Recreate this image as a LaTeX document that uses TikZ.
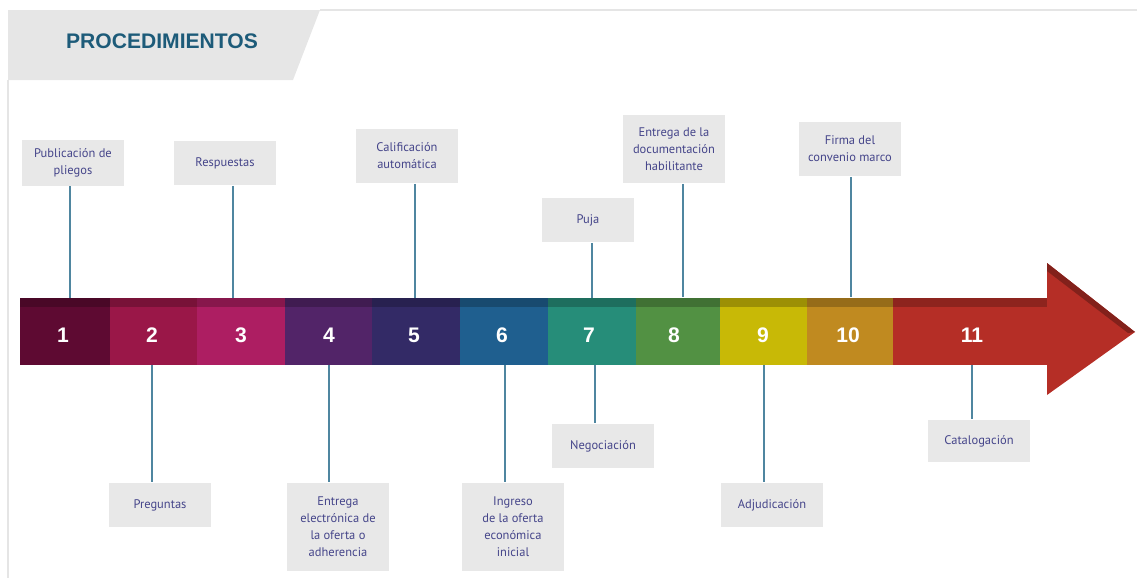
\documentclass[tikz,border=0pt]{standalone}
\usepackage{fontspec}
\usepackage{tikz}
\usetikzlibrary{positioning}
\newfontfamily\boxfont{PT Sans}
\newfontfamily\numfont{Liberation Sans}

\definecolor{headgray}{HTML}{E6E6E6}
\definecolor{boxgray}{HTML}{E8E8E8}
\definecolor{titleblue}{HTML}{1D5B79}
\definecolor{boxtext}{HTML}{45458A}
\definecolor{tickblue}{HTML}{4F86A0}
\definecolor{c1}{HTML}{5E0A32}
\definecolor{c2}{HTML}{9A1748}
\definecolor{c3}{HTML}{AD1E62}
\definecolor{c4}{HTML}{522468}
\definecolor{c5}{HTML}{332A66}
\definecolor{c6}{HTML}{1F5F8F}
\definecolor{c7}{HTML}{268D79}
\definecolor{c8}{HTML}{529143}
\definecolor{c9}{HTML}{C8B906}
\definecolor{c10}{HTML}{C08A20}
\definecolor{c11}{HTML}{B52E26}

\tikzset{
  seg/.style={minimum height=1.16cm,inner sep=0pt,text=white,
              font=\numfont\bfseries\fontsize{12}{14}\selectfont},
  callout/.style={fill=boxgray,minimum width=2.04cm,inner sep=1pt,align=center,
                  text=boxtext,font=\boxfont\fontsize{7.1}{9.6}\selectfont},
  tick/.style={draw=tickblue,line width=0.8pt},
}

\begin{document}
\begin{tikzpicture}[x=0.02cm,y=-0.02cm]
\useasboundingbox (0,0) rectangle (1137,578);

% header
\fill[headgray] (8,10) -- (320,10) -- (293,80) -- (8,80) -- cycle;
\draw[gray!20,line width=0.6pt] (320,10) -- (1137,10);
\draw[gray!20,line width=0.6pt] (8,80) -- (8,578);
\node[text=titleblue,font=\numfont\bfseries\fontsize{12}{14}\selectfont] (title) at (162,41) {PROCEDIMIENTOS};

% bar
\node[seg,fill=c1,minimum width=1.8cm] (s1) at (65,336) {};
\node[seg,fill=c2,minimum width=1.74cm] (s2) at (153.5,336) {};
\node[seg,fill=c3,minimum width=1.76cm] (s3) at (241,336) {};
\node[seg,fill=c4,minimum width=1.74cm] (s4) at (328.5,336) {};
\node[seg,fill=c5,minimum width=1.76cm] (s5) at (416,336) {};
\node[seg,fill=c6,minimum width=1.76cm] (s6) at (504,336) {};
\node[seg,fill=c7,minimum width=1.76cm] (s7) at (592,336) {};
\node[seg,fill=c8,minimum width=1.68cm] (s8) at (678,336) {};
\node[seg,fill=c9,minimum width=1.74cm] (s9) at (763.5,336) {};
\node[seg,fill=c10,minimum width=1.72cm] (s10) at (850,336) {};
\node[seg,fill=c11,minimum width=3.08cm] (s11) at (970,336) {};

\foreach \n/\c in {s1/c1,s2/c2,s3/c3,s4/c4,s5/c5,s6/c6,s7/c7,s8/c8,s9/c9,s10/c10,s11/c11}
  \fill[\c!78!black] (\n.north west) rectangle ([yshift=5pt]\n.north east);

% arrow head
\fill[c11] (1047,263) -- (1135,332) -- (1047,395) -- cycle;
\fill[c11!72!black] (1047,263) -- (1135,332) -- (1128,333) -- (1047,271) -- cycle;

% numbers
\node[seg] (n1) at (63,335) {1};
\node[seg] (n2) at (152,335) {2};
\node[seg] (n3) at (241,335) {3};
\node[seg] (n4) at (329,335) {4};
\node[seg] (n5) at (414,335) {5};
\node[seg] (n6) at (502,335) {6};
\node[seg] (n7) at (589,335) {7};
\node[seg] (n8) at (674,335) {8};
\node[seg] (n9) at (763,335) {9};
\node[seg] (n10) at (848,335) {10};
\node[seg] (n11) at (972,335) {11};

% callouts above
\node[callout,minimum height=0.92cm] (pub) at (73,163) {Publicación de\\pliegos};
\node[callout,minimum height=0.9cm] (resp) at (225,163) {Respuestas};
\node[callout,minimum height=1.1cm] (calif) at (407,156) {Calificación\\automática};
\node[callout,minimum height=0.9cm,minimum width=1.86cm] (puja) at (588,220) {Puja};
\node[callout,minimum height=1.38cm] (entdoc) at (674,149) {Entrega de la\\documentación\\habilitante};
\node[callout,minimum height=1.1cm] (firma) at (850,149) {Firma del\\convenio marco};

% callouts below
\node[callout,minimum height=0.9cm] (preg) at (160,505) {Preguntas};
\node[callout,minimum height=1.78cm] (entel) at (338,527) {Entrega\\electrónica de\\la oferta o\\adherencia};
\node[callout,minimum height=1.78cm] (ingreso) at (513,527) {Ingreso\\de la oferta\\económica\\inicial};
\node[callout,minimum height=0.9cm] (negoc) at (603,446) {Negociación};
\node[callout,minimum height=0.9cm] (adjud) at (772,505) {Adjudicación};
\node[callout,minimum height=0.86cm] (catal) at (979,441) {Catalogación};

% tick points on the bar
\coordinate (t1) at (70,298);
\coordinate (t3) at (233,298);
\coordinate (t5) at (415,298);
\coordinate (t7) at (592,298);
\coordinate (t8) at (683,297);
\coordinate (t10) at (851,297);
\coordinate (b2) at (152,365);
\coordinate (b4) at (329,365);
\coordinate (b6) at (505,365);
\coordinate (b7) at (595,365);
\coordinate (b9) at (764,365);
\coordinate (b11) at (972,365);

\draw[tick] (pub.south -| t1) -- (t1);
\draw[tick] (resp.south -| t3) -- (t3);
\draw[tick] (calif.south -| t5) -- (t5);
\draw[tick] (puja.south -| t7) -- (t7);
\draw[tick] (entdoc.south -| t8) -- (t8);
\draw[tick] (firma.south -| t10) -- (t10);
\draw[tick] (b2) -- (preg.north -| b2);
\draw[tick] (b4) -- (entel.north -| b4);
\draw[tick] (b6) -- (ingreso.north -| b6);
\draw[tick] (b7) -- (negoc.north -| b7);
\draw[tick] (b9) -- (adjud.north -| b9);
\draw[tick] (b11) -- (catal.north -| b11);
\end{tikzpicture}
\end{document}
